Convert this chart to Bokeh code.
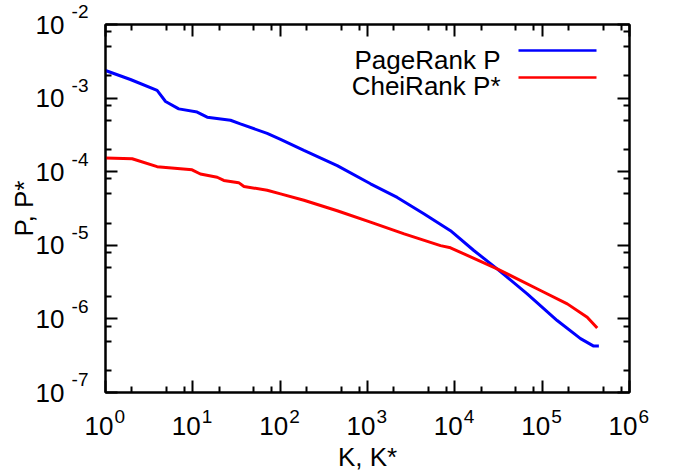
from bokeh.plotting import figure
from bokeh.models import (FixedTicker, LogAxis, LinearAxis, Label, BoxAnnotation, Range1d,
                          LinearScale, CustomJSTickFormatter)
from bokeh.embed import file_html
from bokeh.resources import INLINE

# ---- data ----
pagerank_K = [1, 1.93, 3.9, 4.87, 6.9, 11.2, 14.6, 27, 35, 71, 101, 187, 450,
              1082, 2190, 4415, 8920, 16500, 30500, 67400, 148600, 275000, 389000, 446000]
pagerank_P = [2.37e-3, 1.79e-3, 1.27e-3, 9.0e-4, 7.14e-4, 6.46e-4, 5.5e-4, 5.0e-4, 4.47e-4,
              3.31e-4, 2.75e-4, 1.95e-4, 1.21e-4, 6.85e-5, 4.47e-5, 2.69e-5, 1.58e-5, 8.5e-6,
              4.79e-6, 2.19e-6, 9.5e-7, 5.4e-7, 4.27e-7, 4.27e-7]
cheirank_K = [1, 2.02, 3.9, 7.2, 9.8, 12.2, 19, 22.6, 33.5, 38.5, 71, 101, 187, 450, 1082,
              2630, 6856, 8920, 30500, 95700, 194000, 328000, 427000]
cheirank_P = [1.53e-4, 1.50e-4, 1.17e-4, 1.10e-4, 1.06e-4, 9.3e-5, 8.4e-5, 7.6e-5, 7.1e-5,
              6.3e-5, 5.6e-5, 5.0e-5, 4.1e-5, 2.95e-5, 2.06e-5, 1.43e-5, 9.9e-6, 9.25e-6,
              4.79e-6, 2.43e-6, 1.60e-6, 1.05e-6, 7.5e-7]
series_names = ["PageRank P", "CheiRank P*"]
series_colors = ["#0000ff", "#ff0000"]
x_exponents = [0, 1, 2, 3, 4, 5, 6]
y_exponents = [-7, -6, -5, -4, -3, -2]
minor_mult = [2, 5, 8]
x_title = "K, K*"
y_title = "P, P*"

FONT = "Liberation Sans"
BIG = "26px"
SMALL = "19px"
EN = "\u2002"
EM = "\u2003"

x0, x1 = x_exponents[0], x_exponents[-1]
y0, y1 = y_exponents[0], y_exponents[-1]

p = figure(width=674, height=475, x_axis_type="log", y_axis_type="log",
           x_range=(10.0 ** x0, 10.0 ** x1), y_range=(10.0 ** y0, 10.0 ** y1),
           output_backend="svg", toolbar_location=None,
           min_border_left=105, min_border_right=45, min_border_top=24, min_border_bottom=83)
p.background_fill_color = "white"
p.border_fill_color = "white"
p.outline_line_color = "black"
p.outline_line_width = 2
p.xgrid.visible = False
p.ygrid.visible = False

# linear "exponent" ranges that coincide with the log ranges (used for label axes)
p.extra_x_ranges = {"xe": Range1d(x0, x1)}
p.extra_x_scales = {"xe": LinearScale()}
p.extra_y_ranges = {"ye": Range1d(y0, y1)}
p.extra_y_scales = {"ye": LinearScale()}

xt_major = [10.0 ** e for e in x_exponents]
xt_minor = [m * 10.0 ** e for e in x_exponents[:-1] for m in minor_mult]
yt_major = [10.0 ** e for e in y_exponents]
yt_minor = [m * 10.0 ** e for e in y_exponents[:-1] for m in minor_mult]

EMPTY = CustomJSTickFormatter(code="return ''")


def style_tick_axis(ax):
    ax.major_tick_in = 12
    ax.major_tick_out = 0
    ax.minor_tick_in = 6
    ax.minor_tick_out = 0
    ax.major_tick_line_width = 2
    ax.minor_tick_line_width = 2
    ax.axis_line_width = 2
    ax.major_tick_line_color = "black"
    ax.minor_tick_line_color = "black"
    ax.axis_line_color = "black"
    ax.formatter = EMPTY
    ax.major_label_standoff = 0
    ax.major_label_text_font_size = "1px"


def label_axis(side, rng, ticks, labels, size, standoff):
    kw = {"x_range_name": rng} if side in ("below", "above") else {"y_range_name": rng}
    ax = LinearAxis(ticker=FixedTicker(ticks=ticks, minor_ticks=[]),
                    formatter=CustomJSTickFormatter(args=dict(labels=labels),
                                                    code="return labels[index];"),
                    **kw)
    ax.axis_line_color = None
    ax.major_tick_line_color = None
    ax.minor_tick_line_color = None
    ax.major_tick_in = 0
    ax.major_tick_out = 0
    ax.minor_tick_in = 0
    ax.minor_tick_out = 0
    ax.major_label_standoff = standoff
    ax.major_label_text_font = FONT
    ax.major_label_text_font_size = size
    ax.major_label_text_color = "black"
    p.add_layout(ax, side)
    return ax


def title_axis(side, text, standoff):
    ax = LogAxis(ticker=FixedTicker(ticks=[], minor_ticks=[]), formatter=EMPTY)
    ax.axis_line_color = None
    ax.major_tick_line_color = None
    ax.minor_tick_line_color = None
    ax.major_tick_out = 0
    ax.minor_tick_out = 0
    ax.major_label_standoff = 0
    ax.axis_label = text
    ax.axis_label_standoff = standoff
    ax.axis_label_text_font = FONT
    ax.axis_label_text_font_size = BIG
    ax.axis_label_text_font_style = "normal"
    ax.axis_label_text_color = "black"
    p.add_layout(ax, side)
    return ax


# tick axes (ticks inward on all four sides)
p.xaxis.ticker = FixedTicker(ticks=xt_major, minor_ticks=xt_minor)
p.yaxis.ticker = FixedTicker(ticks=yt_major, minor_ticks=yt_minor)
style_tick_axis(p.xaxis[0])
style_tick_axis(p.yaxis[0])
top_ax = LogAxis(ticker=FixedTicker(ticks=xt_major, minor_ticks=xt_minor))
right_ax = LogAxis(ticker=FixedTicker(ticks=yt_major, minor_ticks=yt_minor))
style_tick_axis(top_ax)
style_tick_axis(right_ax)
p.add_layout(top_ax, "above")
p.add_layout(right_ax, "right")

# x tick labels "10^n": exponent row (nearer the frame), then the "10" row
label_axis("below", "xe", x_exponents, [EM + EN + str(e) for e in x_exponents], SMALL, 13)
label_axis("below", "xe", x_exponents, ["10" + EN for e in x_exponents], BIG, -19)
title_axis("below", x_title, -2)

# y tick labels
label_axis("left", "ye", y_exponents, [str(e) + "\n" for e in y_exponents], SMALL, 17)
label_axis("left", "ye", y_exponents, ["10" for e in y_exponents], BIG, 4)
title_axis("left", y_title, -6)

# curves
p.line(pagerank_K, pagerank_P, line_color=series_colors[0], line_width=3)
p.line(cheirank_K, cheirank_P, line_color=series_colors[1], line_width=3)

# legend (text left of sample line), positions relative to the frame
for i, (name, col) in enumerate(zip(series_names, series_colors)):
    ty = 333 - 26 * i
    p.add_layout(Label(x=395, y=ty, x_units="screen", y_units="screen", text=name,
                       text_align="right", text_baseline="alphabetic",
                       text_font=FONT, text_font_size=BIG, text_color="black"))
    ly = 342 - 27 * i
    p.add_layout(BoxAnnotation(left=413, right=491, bottom=ly - 1.2, top=ly + 1.2,
                               left_units="screen", right_units="screen",
                               bottom_units="screen", top_units="screen",
                               fill_color=col, fill_alpha=1, line_color=None))

open("out.html", "w").write(file_html(p, INLINE))
